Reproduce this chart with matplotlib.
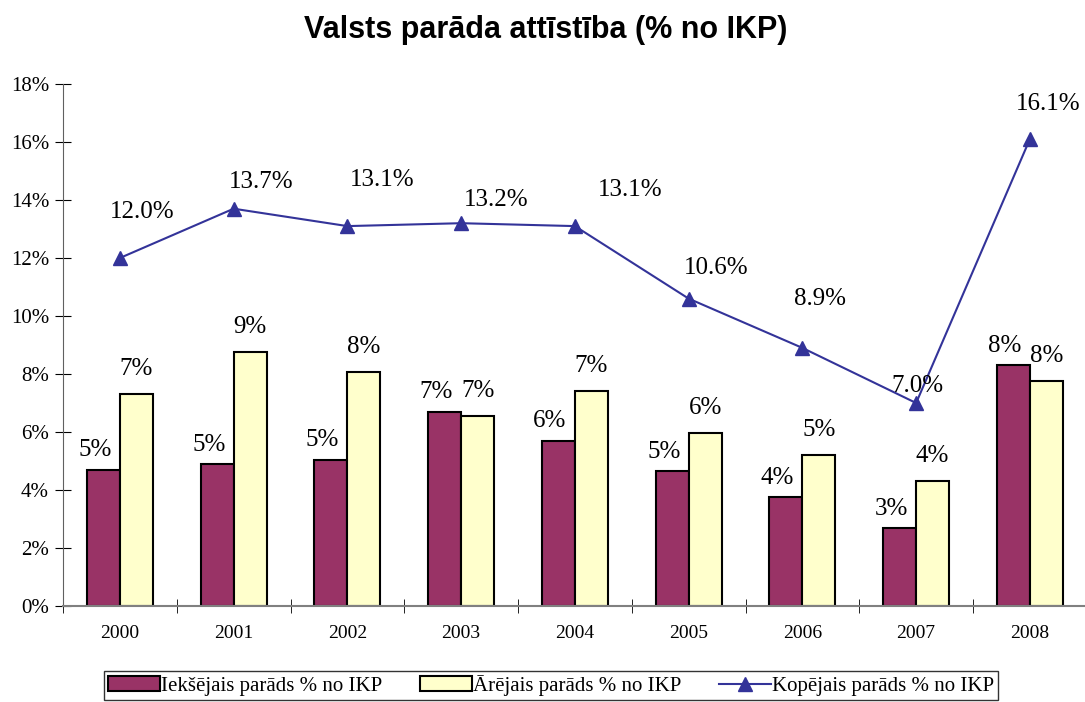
import matplotlib.pyplot as plt
import numpy as np

years = ['2000', '2001', '2002', '2003', '2004', '2005', '2006', '2007', '2008']
domestic = [4.7, 4.9, 5.05, 6.7, 5.7, 4.65, 3.75, 2.68, 8.3]
external = [7.3, 8.75, 8.08, 6.55, 7.42, 5.97, 5.2, 4.3, 7.75]
total = [12.0, 13.7, 13.1, 13.2, 13.1, 10.6, 8.9, 7.0, 16.1]

# label offsets for the line values (points), imitating the original placement
line_label_dx = [16, 20, 25, 25, 40, 20, 13, 1, 13]
line_label_dy = [33, 19, 33, 17, 26, 22, 35, 12, 25]

plt.rcParams['font.family'] = ['Liberation Serif', 'DejaVu Serif']

fig = plt.figure(figsize=(10.85, 7.02), dpi=100)
ax = fig.add_axes([63 / 1085, 1 - 606 / 702, 1023.75 / 1085, 522 / 702])

x = np.arange(len(years))
w = 0.29
ax.bar(x - w / 2, domestic, w, color='#993366', edgecolor='black', linewidth=1.5,
       label='Iekšējais parāds % no IKP', zorder=2)
ax.bar(x + w / 2, external, w, color='#FFFFCC', edgecolor='black', linewidth=1.5,
       label='Ārējais parāds % no IKP', zorder=2)
ax.plot(x, total, color='#333399', linewidth=1.5, marker='^', markersize=10,
        label='Kopējais parāds % no IKP', zorder=3)

for i in range(len(years)):
    ax.annotate(f'{domestic[i]:.0f}%', (x[i] - w / 2, domestic[i]), xytext=(-6, 6),
                textcoords='offset points', ha='center', va='bottom', fontsize=18)
    ax.annotate(f'{external[i]:.0f}%', (x[i] + w / 2, external[i]), xytext=(0, 10),
                textcoords='offset points', ha='center', va='bottom', fontsize=18)
    ax.annotate(f'{total[i]:.1f}%', (x[i], total[i]),
                xytext=(line_label_dx[i], line_label_dy[i]),
                textcoords='offset points', ha='center', va='center', fontsize=18)

ax.set_xlim(-0.5, 8.5)
ax.set_ylim(0, 18)
ax.set_yticks(np.arange(0, 19, 2))
ax.set_yticklabels([f'{v}%' for v in range(0, 19, 2)], fontsize=15)
ax.set_xticks(x)
ax.set_xticklabels(years, fontsize=14)
ax.set_xticks(np.arange(-0.5, 9, 1), minor=True)
ax.tick_params(axis='x', which='major', length=0, pad=14)
ax.tick_params(axis='x', which='minor', direction='inout', length=10, color='black')
ax.tick_params(axis='y', direction='inout', length=12, pad=4)

for s in ['top', 'right']:
    ax.spines[s].set_visible(False)
ax.spines['bottom'].set_color('#808080')
ax.spines['bottom'].set_linewidth(1.5)
ax.spines['left'].set_color('#606060')

fig.suptitle('Valsts parāda attīstība (% no IKP)', x=546 / 1085, y=1 - 15 / 702,
             fontsize=22, fontweight='bold', family='Liberation Sans')

handles, labels = ax.get_legend_handles_labels()
order = [1, 2, 0]
leg = fig.legend([handles[k] for k in order], [labels[k] for k in order],
                 loc='upper center', bbox_to_anchor=(551 / 1085, 1 - 671 / 702),
                 ncol=3, fontsize=15, frameon=True, fancybox=False,
                 edgecolor='black', handlelength=2.5, handletextpad=0.05,
                 columnspacing=1.8, borderpad=0.2, borderaxespad=0)
leg.get_frame().set_linewidth(1.0)

fig.savefig('out.png', dpi=100)
